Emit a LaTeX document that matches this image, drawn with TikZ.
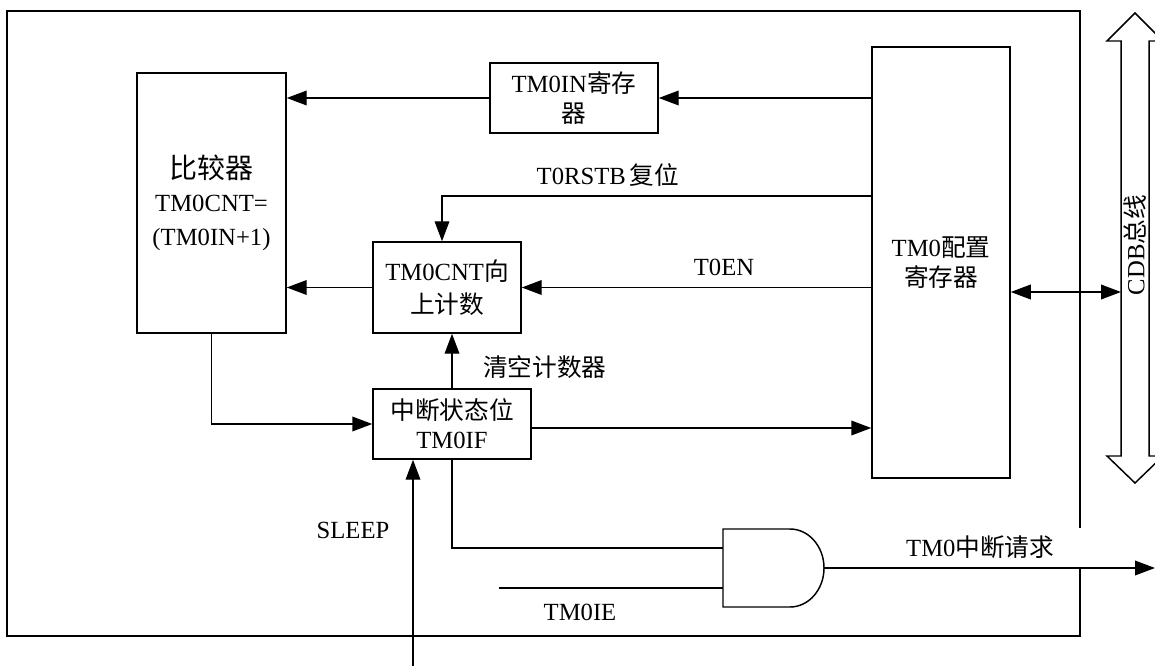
\documentclass[tikz,border=0pt]{standalone}
\usepackage{fontspec}
\setmainfont{Liberation Serif}
\newfontfamily\zhfont{Noto Sans CJK SC}
\newcommand{\zhtxt}[1]{{\zhfont #1}}
\usetikzlibrary{arrows.meta,positioning,calc}

\begin{document}
\begin{tikzpicture}[
    x=0.75pt, y=-0.75pt,
    box/.style={draw, line width=1.1pt, align=center, inner sep=0pt, font=\fontsize{18.5}{24}\selectfont},
    lbl/.style={inner sep=0pt, font=\fontsize{18.5}{24}\selectfont},
    plain/.style={line width=1.1pt},
    wire/.style={line width=1.1pt, -{Triangle[length=15pt,width=11pt]}},
    bothwire/.style={line width=1.1pt, {Triangle[length=15pt,width=11pt]}-{Triangle[length=15pt,width=11pt]}}
  ]
  \useasboundingbox (0,0) rectangle (1155,666);

  % outer frame and CDB bus
  \draw[line width=1.5pt] (7,11) rectangle (1080,636);
  \draw[plain] (1135,13) -- (1163,41) -- (1149,41) -- (1149,456) -- (1163,456) -- (1135,483)
    -- (1107,456) -- (1121,456) -- (1121,41) -- (1107,41) -- cycle;
  \node[lbl, rotate=90] (cdblbl) at (1135,245) {CDB\zhtxt{总线}};
  \coordinate (busw) at (1121,292);

  % blocks
  \node[box, minimum width=111.75pt, minimum height=195pt] (cmp) at (211.5,203)
    {{\zhfont\fontsize{21}{27}\selectfont 比较器}\\[0.6pt]TM0CNT=\\[1.5pt](TM0IN+1)};
  \node[box, minimum width=126pt, minimum height=52.5pt] (tmin) at (574,98) {TM0IN\zhtxt{寄存}\\[-1.5pt]\zhtxt{器}};
  \node[box, minimum width=103.5pt, minimum height=323.25pt] (cfg) at (941,262.5) {TM0\zhtxt{配置}\\[-1.5pt]\zhtxt{寄存器}};
  \node[box, minimum width=111pt, minimum height=68.25pt] (cnt) at (447,287.5) {TM0CNT\zhtxt{向}\\[1pt]\zhtxt{上计数}};
  \node[box, minimum width=118.5pt, minimum height=52.5pt] (irq) at (452,424) {\zhtxt{中断状态位}\\[-2pt]TM0IF};

  % AND gate
  \draw[plain] (723,529) -- (790,529) arc[start angle=-90, end angle=90, x radius=34, y radius=39]
    -- (723,607) -- cycle;
  \coordinate (andin1) at (723,548);
  \coordinate (andin2) at (723,588);
  \coordinate (andout) at (824,568);
  \coordinate (iestart) at (499,588);
  \coordinate (sleepin) at (413,666);
  \coordinate (reqend) at (1155,568);

  % labels
  \node[lbl] (rstlbl) at (608,175) {T0RSTB\,\zhtxt{复位}};
  \node[lbl] (enlbl) at (724,267) {T0EN};
  \node[lbl, anchor=west] (clrlbl) at (483,367) {\zhtxt{清空计数器}};
  \node[lbl] (sleeplbl) at (353,530) {SLEEP};
  \node[lbl] (ielbl) at (580,612) {TM0IE};
  \node[lbl, fill=white, anchor=south east, minimum width=150.75pt, minimum height=29.25pt] (reqlbl)
    at (1081,567) {TM0\zhtxt{中断请求}};

  % connections
  \draw[wire] (cfg.west |- tmin.east) -- (tmin.east);
  \draw[wire] (tmin.west) -- (cmp.east |- tmin.west);
  \draw[wire] (cfg.west |- 0,196) -| ([xshift=-3.75pt]cnt.north);
  \draw[wire] (cfg.west |- cnt.east) -- (cnt.east);
  \draw[wire] (cnt.west) -- (cmp.east |- cnt.west);
  \draw[wire] (cmp.south) |- (irq.west);
  \draw[wire] (irq.north) -- (cnt.south -| irq.north);
  \draw[wire] ([yshift=-3pt]irq.east) -- ([yshift=-3pt]irq.east -| cfg.west);
  \draw[bothwire] (cfg.east |- busw) -- (busw);
  \draw[wire] (sleepin) -- (sleepin |- irq.south);
  \draw[plain] (irq.south) |- (andin1);
  \draw[plain] (iestart) -- (andin2);
  \draw[wire] (andout) -- (reqend);
\end{tikzpicture}
\end{document}
